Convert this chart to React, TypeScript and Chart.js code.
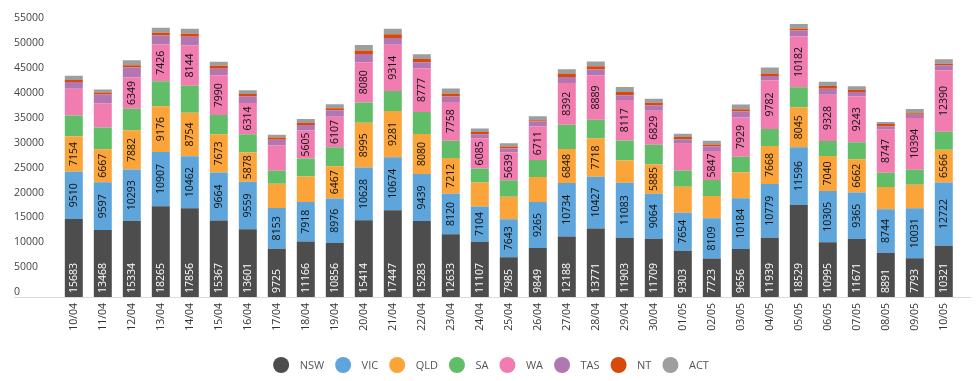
import React, { useEffect, useRef } from "react";
import { Chart, registerables } from "chart.js";

Chart.register(...registerables);

const categories = [
  "10/04", "11/04", "12/04", "13/04", "14/04", "15/04", "16/04", "17/04", "18/04", "19/04",
  "20/04", "21/04", "22/04", "23/04", "24/04", "25/04", "26/04", "27/04", "28/04", "29/04",
  "30/04", "01/05", "02/05", "03/05", "04/05", "05/05", "06/05", "07/05", "08/05", "09/05", "10/05",
];

const NSW = [15683, 13468, 15334, 18265, 17856, 15367, 13601, 9725, 11166, 10856, 15414, 17447, 15283, 12633, 11107, 7985, 9849, 12188, 13771, 11903, 11709, 9303, 7723, 9656, 11939, 18529, 10995, 11671, 8891, 7793, 10321];
const VIC = [9510, 9597, 10293, 10907, 10462, 9664, 9559, 8153, 7918, 8976, 10628, 10674, 9439, 8120, 7104, 7643, 9265, 10734, 10427, 11083, 9064, 7654, 8109, 10184, 10779, 11596, 10305, 9365, 8744, 10031, 12722];
const QLD = [7154, 6667, 7882, 9176, 8754, 7673, 5878, 4890, 5160, 6467, 8995, 9281, 8080, 7212, 4820, 4555, 5025, 6848, 7718, 4490, 5885, 5225, 4490, 5225, 7668, 8045, 7040, 6662, 4500, 4760, 6566];
const SA = [4150, 4355, 4355, 5025, 5430, 3890, 3685, 2610, 3620, 3820, 4090, 4020, 4420, 3480, 2810, 3280, 3420, 4890, 3750, 4020, 3955, 3280, 3215, 3150, 3420, 4020, 3015, 3420, 2850, 3015, 3620];
const WA = [5400, 4890, 6349, 7426, 8144, 7990, 6314, 5090, 5605, 6107, 8080, 9314, 8777, 7758, 6085, 5639, 6711, 8392, 8889, 8117, 6829, 5350, 5847, 7929, 9782, 10182, 9328, 9243, 8747, 10394, 12390];
const TAS = [1340, 1740, 1940, 1810, 1675, 1340, 1340, 1140, 1140, 1340, 1675, 1340, 1200, 1140, 800, 740, 1000, 1200, 1200, 940, 1140, 870, 940, 1140, 870, 1200, 1200, 870, 600, 670, 1000];
const NT = [400, 400, 470, 540, 600, 600, 470, 470, 400, 400, 670, 750, 670, 600, 470, 400, 270, 670, 670, 670, 470, 470, 335, 470, 470, 400, 540, 400, 470, 270, 270];
const ACT = [870, 600, 1000, 1000, 1000, 800, 740, 540, 800, 800, 1140, 1140, 940, 1000, 670, 670, 800, 870, 940, 1000, 800, 670, 740, 940, 1200, 940, 870, 740, 400, 870, 940];

const seriesNames = ["NSW", "VIC", "QLD", "SA", "WA", "TAS", "NT", "ACT"];
const seriesValues = [NSW, VIC, QLD, SA, WA, TAS, NT, ACT];
const seriesColors = ["#4d4d4d", "#5da5da", "#faa43a", "#60bd68", "#f17cb0", "#b276b2", "#d84a0c", "#9e9e9e"];
// label mode per series: "start" (at bar base), "center", or null
const labelModes = ["start", "center", "center", null, "center", null, null, null];

const yMax = 55000;
const yStep = 5000;

const FONT = '"Open Sans", sans-serif';

const segLabelPlugin = {
  id: "segLabels",
  afterDatasetsDraw(chart: any) {
    const ctx = chart.ctx;
    chart.data.datasets.forEach((ds: any, di: number) => {
      const mode = labelModes[di];
      if (!mode) return;
      const meta = chart.getDatasetMeta(di);
      meta.data.forEach((el: any, i: number) => {
        const { x, y, base } = el.getProps(["x", "y", "base"], true);
        const h = base - y;
        const text = String(ds.data[i]);
        ctx.save();
        ctx.font = `10.5px ${FONT}`;
        const tw = ctx.measureText(text).width;
        if (mode === "center" && h < tw + 3.5) {
          ctx.restore();
          return;
        }
        ctx.fillStyle = mode === "start" ? "#ffffff" : "#111111";
        ctx.textBaseline = "middle";
        if (mode === "start") {
          ctx.translate(x, base - 4);
          ctx.rotate(-Math.PI / 2);
          ctx.textAlign = "left";
          ctx.fillText(text, 0, 0.5);
        } else {
          ctx.translate(x, (y + base) / 2);
          ctx.rotate(-Math.PI / 2);
          ctx.textAlign = "center";
          ctx.fillText(text, 0, 0.5);
        }
        ctx.restore();
      });
    });
  },
  afterDraw(chart: any) {
    const ctx = chart.ctx;
    // baseline axis line
    ctx.save();
    ctx.strokeStyle = "#dcdcdc";
    ctx.lineWidth = 1;
    ctx.beginPath();
    const yb = Math.round(chart.scales.y.getPixelForValue(0)) + 0.5;
    ctx.moveTo(14, yb);
    ctx.lineTo(971, yb);
    ctx.stroke();
    ctx.restore();

    // legend
    ctx.save();
    ctx.font = `11px ${FONT}`;
    const r = 8;
    const gapText = 10.5;
    const gapItem = 11;
    const widths = seriesNames.map((n) => ctx.measureText(n).width);
    let total = 0;
    widths.forEach((w, i) => {
      total += r * 2 + gapText + w + (i < widths.length - 1 ? gapItem : 0);
    });
    let cx = 491 - total / 2;
    const cy = 365;
    ctx.textBaseline = "middle";
    ctx.textAlign = "left";
    seriesNames.forEach((n, i) => {
      ctx.fillStyle = seriesColors[i];
      ctx.beginPath();
      ctx.arc(cx + r, cy, r, 0, Math.PI * 2);
      ctx.fill();
      ctx.fillStyle = "#555555";
      ctx.fillText(n, cx + 2 * r + gapText, cy + 0.5);
      cx += 2 * r + gapText + widths[i] + gapItem;
    });
    ctx.restore();
  },
};

export default function App() {
  const canvasRef = useRef<HTMLCanvasElement | null>(null);

  useEffect(() => {
    document.body.style.margin = "0";
    const canvas = canvasRef.current;
    if (!canvas) return;
    const chart = new Chart(canvas, {
      type: "bar",
      data: {
        labels: categories,
        datasets: seriesNames.map((name, i) => ({
          label: name,
          data: seriesValues[i],
          backgroundColor: seriesColors[i],
          borderWidth: 0,
          barPercentage: 0.62,
          categoryPercentage: 1,
        })),
      },
      options: {
        animation: false,
        responsive: false,
        maintainAspectRatio: false,
        layout: { padding: { left: 14, right: 21.7, top: 23.5, bottom: 0 } },
        plugins: {
          legend: { display: false },
          tooltip: { enabled: false },
        },
        scales: {
          x: {
            stacked: true,
            grid: { display: false, drawTicks: false },
            border: { display: false },
            ticks: {
              autoSkip: false,
              maxRotation: 90,
              minRotation: 90,
              padding: 6,
              color: "#333333",
              font: { family: FONT, size: 10.5 },
            },
            afterFit: (scale: any) => {
              scale.height = 84;
            },
          },
          y: {
            stacked: true,
            min: 0,
            max: yMax,
            grid: { display: false, drawTicks: false },
            border: { display: false },
            ticks: {
              stepSize: yStep,
              crossAlign: "far",
              labelOffset: -5,
              color: "#444444",
              font: { family: FONT, size: 10.5 },
              callback: (v: any) => String(v),
            },
            afterFit: (scale: any) => {
              scale.width = 45.3;
            },
          },
        },
      },
      plugins: [segLabelPlugin],
    });
    return () => chart.destroy();
  }, []);

  return (
    <div style={{ width: 980, height: 381, position: "relative" }}>
      <canvas ref={canvasRef} width={980} height={381} style={{ display: "block" }} />
    </div>
  );
}
